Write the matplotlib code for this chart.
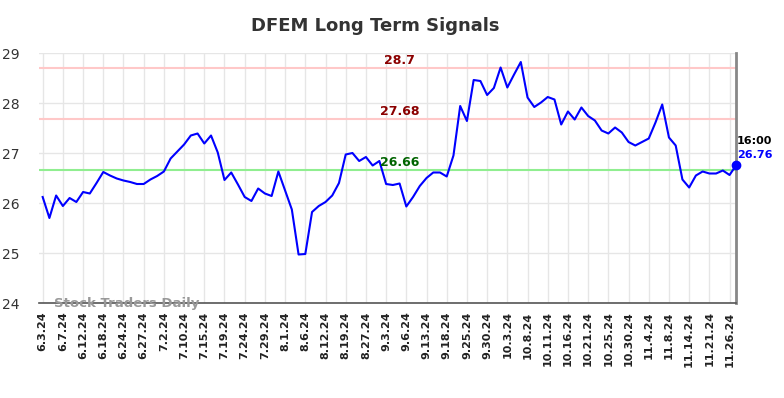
import matplotlib
matplotlib.use("Agg")
import matplotlib.pyplot as plt

# closing prices, one every trading session shown (104 points)
prices = [
    26.12, 25.70, 26.15, 25.94, 26.10, 26.02, 26.22, 26.19, 26.40, 26.62,
    26.55, 26.49, 26.45, 26.42, 26.38, 26.38, 26.47, 26.54, 26.63, 26.89,
    27.03, 27.17, 27.35, 27.39, 27.19, 27.35, 27.01, 26.46, 26.61, 26.37,
    26.12, 26.04, 26.29, 26.19, 26.14, 26.63, 26.25, 25.87, 24.97, 24.98,
    25.82, 25.94, 26.02, 26.15, 26.40, 26.97, 27.00, 26.84, 26.92, 26.75,
    26.84, 26.38, 26.36, 26.39, 25.93, 26.12, 26.34, 26.50, 26.61, 26.61,
    26.53, 26.95, 27.94, 27.64, 28.46, 28.44, 28.16, 28.30, 28.71, 28.31,
    28.57, 28.82, 28.11, 27.92, 28.01, 28.12, 28.07, 27.57, 27.83, 27.67,
    27.91, 27.74, 27.65, 27.45, 27.39, 27.51, 27.41, 27.22, 27.15, 27.22,
    27.29, 27.61, 27.97, 27.31, 27.15, 26.47, 26.31, 26.55, 26.63, 26.59,
    26.59, 26.65, 26.56, 26.76,
]

tick_labels = [
    "6.3.24", "6.7.24", "6.12.24", "6.18.24", "6.24.24", "6.27.24", "7.2.24",
    "7.10.24", "7.15.24", "7.19.24", "7.24.24", "7.29.24", "8.1.24", "8.6.24",
    "8.12.24", "8.19.24", "8.27.24", "9.3.24", "9.6.24", "9.13.24", "9.18.24",
    "9.25.24", "9.30.24", "10.3.24", "10.8.24", "10.11.24", "10.16.24",
    "10.21.24", "10.25.24", "10.30.24", "11.4.24", "11.8.24", "11.14.24",
    "11.21.24", "11.26.24",
]
tick_step = 3

resistance = [28.7, 27.68]
support = [26.66]
last_time = "16:00"

fig = plt.figure(figsize=(7.84, 3.98), dpi=100)
ax = fig.add_axes([39.3 / 784, 1 - 303 / 398, 697 / 784, 250 / 398])

x = list(range(len(prices)))
ax.plot(x, prices, color="#0000ff", linewidth=1.5, zorder=3)
ax.plot(x[-1], prices[-1], "o", color="#0000ff", markersize=6, zorder=4,
        clip_on=False)

for lvl in resistance:
    ax.axhline(lvl, color="#ffc8c8", linewidth=1.5, zorder=2)
    ax.text(53, lvl + 0.03, f"{lvl:g}", color="#8b0000", fontsize=9,
            fontweight="bold", ha="center", va="bottom", zorder=5)
for lvl in support:
    ax.axhline(lvl, color="#90ee90", linewidth=1.5, zorder=2)
    ax.text(53, lvl + 0.03, f"{lvl:g}", color="#006400", fontsize=9,
            fontweight="bold", ha="center", va="bottom", zorder=5)

ax.text(len(prices) - 1 + 0.05, prices[-1] + 0.48, last_time, fontsize=8,
        fontweight="bold", color="black", ha="left", va="center",
        clip_on=False)
ax.text(len(prices) - 1 + 0.05, prices[-1] + 0.21, f"{prices[-1]:.2f}",
        fontsize=8, fontweight="bold", color="#0000ff", ha="left",
        va="center", clip_on=False)

ax.text(1.7, 24.0, "Stock Traders Daily", fontsize=9.5, fontweight="bold",
        color="#999999", ha="left", va="center", zorder=6)

ax.set_xlim(-0.5, len(prices) - 1)
ax.set_ylim(24, 29)
ax.set_yticks([24, 25, 26, 27, 28, 29])
ax.set_xticks(range(0, len(tick_labels) * tick_step, tick_step))
ax.set_xticklabels(tick_labels, rotation=90, fontsize=8, fontweight="bold",
                   color="#222222")
ax.tick_params(axis="y", labelsize=10, colors="#333333", length=0, pad=14)
ax.tick_params(axis="x", length=0, pad=6)

ax.grid(True, color="#e6e6e6", linewidth=1)
ax.set_axisbelow(True)
for side in ["top", "left"]:
    ax.spines[side].set_visible(False)
ax.spines["bottom"].set_color("#555555")
ax.spines["bottom"].set_linewidth(1.2)
ax.spines["right"].set_color("#888888")
ax.spines["right"].set_linewidth(2)

fig.text(375 / 784, 1 - 26 / 398, "DFEM Long Term Signals", fontsize=13,
         fontweight="bold", color="#333333", ha="center", va="center")

fig.savefig("out.png", dpi=100)
